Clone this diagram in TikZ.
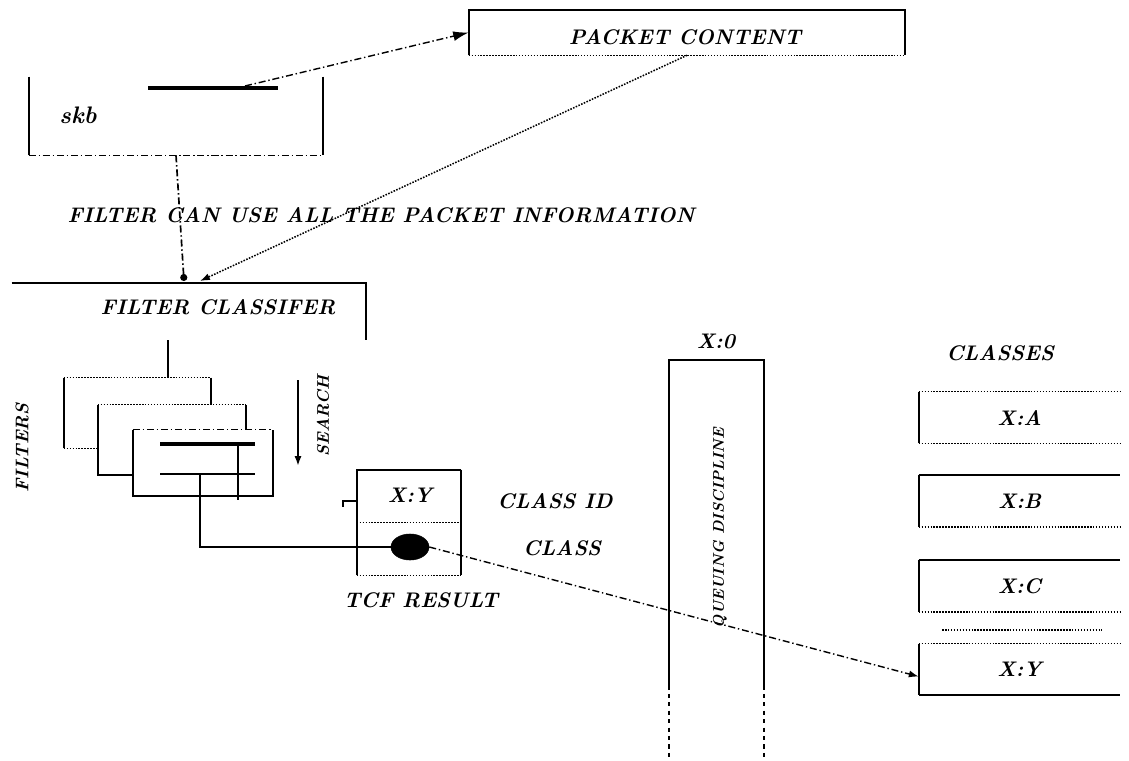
\documentclass[tikz,border=0pt]{standalone}
\usepackage{tikz}
\usetikzlibrary{arrows.meta, shapes.geometric, positioning, calc}

\begin{document}
\begin{tikzpicture}[
    x=0.025cm, y=-0.025cm,
    box/.style={draw=none, fill=none, inner sep=0pt},
    fbox/.style={draw=none, fill=white, inner sep=0pt, minimum width=3.65cm, minimum height=1.75cm},
    cbox/.style={draw=none, inner sep=0pt, minimum width=5.025cm, minimum height=1.275cm},
    lbl/.style={font=\bfseries\itshape\fontsize{15}{17}\selectfont, inner sep=1pt},
    vlbl/.style={font=\bfseries\itshape\fontsize{13}{15}\selectfont, inner sep=1pt, rotate=90},
    wire/.style={line width=1.3pt},
    dotwire/.style={densely dotted, line width=1.1pt},
    dashwire/.style={dash pattern=on 5pt off 2pt on 1pt off 2pt, line width=1pt},
    arrow/.style={-{Latex[length=7pt, width=5pt]}}
]
\useasboundingbox (0,0) rectangle (1129,761);

% Packet content
\node[box, minimum width=10.9cm, minimum height=1.125cm] (pc) at (687,32.5) {};
\node[lbl] (pclbl) at (685,37) {PACKET CONTENT};
\draw[wire] (pc.south west) -- (pc.north west) -- (pc.north east) -- (pc.south east);
\draw[dotwire] (pc.south west) -- (pc.south east);

% skb
\node[box, minimum width=7.35cm, minimum height=1.95cm] (skb) at (176,116) {};
\node[lbl, font=\bfseries\itshape\fontsize{17}{19}\selectfont] (skblbl) at (78,115) {skb};
\draw[wire] (skb.north west) -- (skb.south west);
\draw[wire] (skb.north east) -- (skb.south east);
\draw[dashwire] (skb.south west) -- (skb.south east);
\coordinate (d1) at (148,88);
\coordinate (d2) at (278,88);
\coordinate (dptr) at (245,86);
\draw[line width=2.2pt] (d1) -- (d2);
\draw[dashwire, -{Latex[length=11pt, width=7pt]}] (dptr) -- (pc.west);

% Filter classifier
\node[box, minimum width=8.85cm, minimum height=1.425cm] (fc) at (189,311.5) {};
\node[lbl] (fclbl) at (218,307) {FILTER CLASSIFER};
\draw[wire] (fc.north west) -- (fc.north east) -- (fc.south east);
\coordinate (fcin) at (184,281);
\coordinate (fcin2) at (200,281);
\draw[dashwire, line width=1.2pt, -{Circle[length=5pt]}] (skb.south) -- (fcin);
\draw[dotwire, arrow] (pc.south) -- (fcin2);

\node[lbl] (info) at (381,215) {FILTER CAN USE ALL THE PACKET INFORMATION};

% Filters
\node[fbox, minimum width=3.675cm] (f1) at (137.5,413) {};
\draw[wire] (f1.north west) -- (f1.south west) (f1.north east) -- (f1.south east);
\draw[dotwire] (f1.north west) -- (f1.north east) (f1.south west) -- (f1.south east);
\node[fbox, minimum width=3.7cm] (f2) at (172,440) {};
\draw[wire] (f2.north west) -- (f2.south west) -- (f2.south east) -- (f2.north east);
\draw[dotwire] (f2.north west) -- (f2.north east);
\node[fbox, minimum width=3.5cm, minimum height=1.65cm] (f3) at (203,463) {};
\draw[wire] (f3.north west) -- (f3.south west) -- (f3.south east) -- (f3.north east);
\draw[dashwire] (f3.north west) -- (f3.north east);
\coordinate (fcout) at (168,340);
\draw[wire] (fcout) -- (fcout |- f1.north);

\coordinate (r1a) at (160,444);
\coordinate (r1b) at (255,444);
\coordinate (r2a) at (160,474);
\coordinate (r2b) at (255,474);
\coordinate (v1) at (238,444);
\coordinate (v2) at (200,474);
\draw[line width=3.2pt] (r1a) -- (r1b);
\draw[wire] (r2a) -- (r2b);
\draw[wire] (v1) -- ++(0,56);

\node[vlbl] (filters) at (22,448) {FILTERS};

% Search
\coordinate (s1) at (298,380);
\draw[wire, arrow] (s1) -- ++(0,86);
\node[vlbl, font=\bfseries\itshape\fontsize{12}{14}\selectfont] (search) at (323,416) {SEARCH};

% TCF result
\node[box, minimum width=2.6cm, minimum height=2.625cm] (tcf) at (409,522.5) {};
\draw[wire] (tcf.north east) -- (tcf.north west) -- (tcf.south west);
\draw[wire] (tcf.north east) -- (tcf.south east);
\draw[dotwire] (tcf.west) -- (tcf.east);
\draw[dotwire] (tcf.south west) -- (tcf.south east);
\coordinate (tick) at ($(tcf.north west)!0.3!(tcf.south west)$);
\draw[wire] (tick) -- ++(-14,0) -- ++(0,6);
\node[lbl] (xyid) at (410,495) {X:Y};
\node[draw, fill=black, ellipse, minimum width=0.95cm, minimum height=0.65cm, inner sep=0pt] (cls) at (410,547) {};
\draw[wire] (v2) |- (cls.west);
\node[lbl] (clsid) at (555,501) {CLASS ID};
\node[lbl] (clslbl) at (562,548) {CLASS};
\node[lbl] (tcflbl) at (421,600) {TCF RESULT};

% Queuing discipline
\node[box, minimum width=2.375cm, minimum height=8.125cm] (q) at (716.5,522.5) {};
\draw[wire] (q.south west) -- (q.north west) -- (q.north east) -- (q.south east);
\draw[dashed, line width=1.3pt] (q.south west) -- ++(0,76) (q.south east) -- ++(0,76);
\node[lbl] (qid) at (716,341) {X:0};
\node[vlbl, font=\bfseries\itshape\fontsize{11}{13}\selectfont] (qlbl) at (720,528) {QUEUING DISCIPLINE};

% Classes
\node[lbl] (classes) at (1000,353) {CLASSES};
\node[cbox] (xa) at (1019.5,417.5) {};
\node[cbox] (xb) at (1019.5,501) {};
\node[cbox] (xc) at (1019.5,586) {};
\node[cbox] (xy) at (1019.5,669.5) {};
\node[lbl] at (xa) {X:A};
\node[lbl] at (xb) {X:B};
\node[lbl] at (xc) {X:C};
\node[lbl] at (xy) {X:Y};
\foreach \c in {xa,xb,xc,xy}
  \draw[wire] (\c.north west) -- (\c.south west);
\draw[dotwire] (xa.north west) -- (xa.north east) (xa.south west) -- (xa.south east);
\draw[wire] (xb.north west) -- (xb.north east);
\draw[dotwire] (xb.south west) -- (xb.south east);
\draw[wire] (xc.north west) -- (xc.north east);
\draw[dotwire] (xc.south west) -- (xc.south east);
\draw[dotwire] (xy.north west) -- (xy.north east);
\draw[wire] (xy.south west) -- (xy.south east);
\coordinate (gap1) at (942,630);
\coordinate (gap2) at (1102,630);
\draw[dotwire] (gap1) -- (gap2);

\draw[dashwire, arrow] (cls.east) -- ([yshift=-5pt]xy.west);

\end{tikzpicture}
\end{document}
